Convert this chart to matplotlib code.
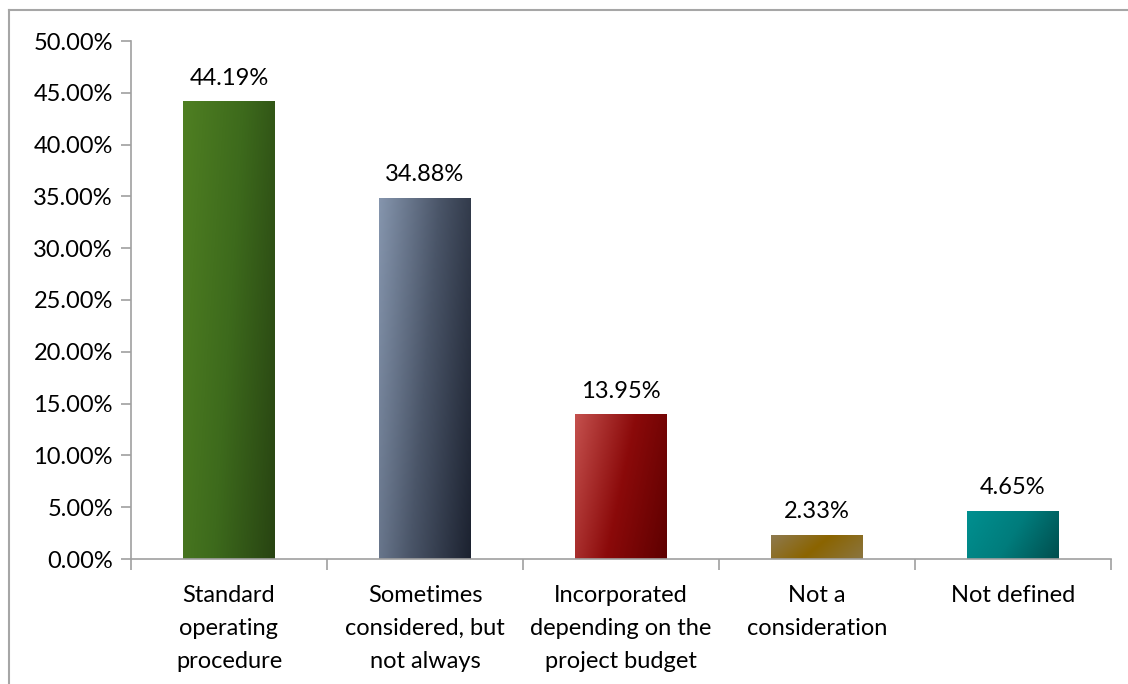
import numpy as np
import matplotlib
matplotlib.use("Agg")
import matplotlib.pyplot as plt
from matplotlib.colors import LinearSegmentedColormap
from matplotlib.ticker import FuncFormatter, FixedLocator
from matplotlib.lines import Line2D

plt.rcParams['font.family'] = ['Lato', 'DejaVu Sans']

categories = ["Standard\noperating\nprocedure",
              "Sometimes\nconsidered, but\nnot always",
              "Incorporated\ndepending on the\nproject budget",
              "Not a\nconsideration",
              "Not defined"]
values = [44.19, 34.88, 13.95, 2.33, 4.65]
labels = ["44.19%", "34.88%", "13.95%", "2.33%", "4.65%"]

# gradient stops per bar: top-left -> middle -> bottom-right
gradients = [
    ["#4f7f22", "#3d6a1c", "#284412"],
    ["#8595ad", "#4a5568", "#1c2230"],
    ["#c4504d", "#8b0a0a", "#5e0000"],
    ["#8e7a50", "#8b6400", "#8a7540"],
    ["#009090", "#007c7c", "#004e4e"],
]

FS = 17

fig = plt.figure(figsize=(11.28, 6.84), dpi=100)
ax = fig.add_axes([131/1128, 1-559/684, (1111-131)/1128, (559-41)/684])

x = np.arange(len(values))
bars = ax.bar(x, values, width=0.465, color="none", edgecolor="none", zorder=2)

# diagonal gradient fill for each bar
yy, xx = np.mgrid[0:1:100j, 0:1:100j]
grad = (xx * 0.75 + (1 - yy) * 0.25)
for b, cols in zip(bars, gradients):
    cmap = LinearSegmentedColormap.from_list("g", cols)
    bx, by = b.get_x(), b.get_y()
    bw, bh = b.get_width(), b.get_height()
    im = ax.imshow(grad, cmap=cmap, extent=[bx, bx + bw, by + bh, by],
                   aspect="auto", origin="upper", zorder=2, interpolation="bilinear")
    im.set_clip_path(b)

for xi, v, lab in zip(x, values, labels):
    ax.annotate(lab, (xi, v), xytext=(0, 23), textcoords="offset pixels",
                ha="center", va="center", fontsize=FS, color="black")

ax.set_xlim(-0.5, len(values) - 0.5)
ax.set_ylim(0, 50)
ax.set_yticks(np.arange(0, 50.01, 5))
ax.yaxis.set_major_formatter(FuncFormatter(lambda v, p: f"{v:.2f}%"))

ax.xaxis.set_major_locator(FixedLocator(np.arange(-0.5, len(values), 1.0)))
ax.xaxis.set_minor_locator(FixedLocator(x))
ax.set_xticklabels([])
ax.set_xticklabels(categories, minor=True)
ax.tick_params(axis="x", which="major", length=8, color="#a0a0a0", width=1.2)
ax.tick_params(axis="x", which="minor", length=0, pad=19, labelsize=FS)
ax.tick_params(axis="y", length=7, color="#a0a0a0", width=1.2, labelsize=FS, pad=6)
for t in ax.get_xticklabels(minor=True):
    t.set_linespacing(1.7)

for s in ["top", "right"]:
    ax.spines[s].set_visible(False)
for s in ["left", "bottom"]:
    ax.spines[s].set_color("#a0a0a0")
    ax.spines[s].set_linewidth(1.2)

# outer chart border (top and left edges visible)
fig.add_artist(Line2D([9/1128, 1.0], [1-10/684, 1-10/684], transform=fig.transFigure,
                      color="#a6a6a6", lw=1.5))
fig.add_artist(Line2D([9/1128, 9/1128], [1-10/684, 0.0], transform=fig.transFigure,
                      color="#a6a6a6", lw=1.5))

fig.savefig("out.png", dpi=100, facecolor="white")
